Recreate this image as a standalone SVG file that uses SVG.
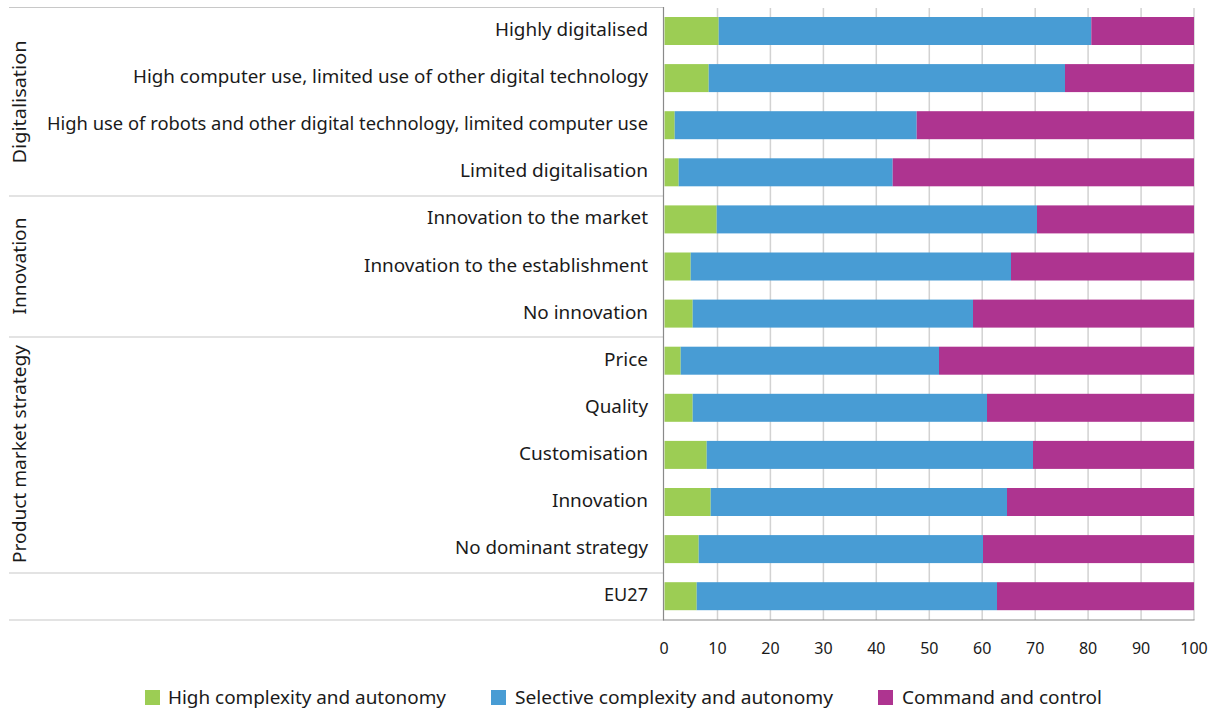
<svg xmlns="http://www.w3.org/2000/svg" width="1219" height="713" viewBox="0 0 1219 713">
<style>
.lbl{font-family:"Noto Sans","Liberation Sans",sans-serif;font-size:18px;fill:#1a1a1a;text-anchor:end}
.grp{font-family:"Noto Sans","Liberation Sans",sans-serif;font-size:18px;fill:#1a1a1a;text-anchor:middle}
.tick{font-family:"Noto Sans","Liberation Sans",sans-serif;font-size:16px;fill:#1a1a1a;text-anchor:middle}
.leg{font-family:"Noto Sans","Liberation Sans",sans-serif;font-size:18px;fill:#1a1a1a}
.g{fill:#9ccd54}.b{fill:#489cd4}.m{fill:#ae3490}
.grid{stroke:#d2d2d2;stroke-width:1.5}
.sep{stroke:#c8c8c8;stroke-width:1.2}
.axis{stroke:#8a8a8a;stroke-width:1.2}
</style>
<rect width="1219" height="713" fill="#fff"/>
<g id="grid">
<line class="grid" x1="717.5" y1="8" x2="717.5" y2="620"/>
<line class="grid" x1="770.4" y1="8" x2="770.4" y2="620"/>
<line class="grid" x1="823.4" y1="8" x2="823.4" y2="620"/>
<line class="grid" x1="876.3" y1="8" x2="876.3" y2="620"/>
<line class="grid" x1="929.3" y1="8" x2="929.3" y2="620"/>
<line class="grid" x1="982.2" y1="8" x2="982.2" y2="620"/>
<line class="grid" x1="1035.2" y1="8" x2="1035.2" y2="620"/>
<line class="grid" x1="1088.1" y1="8" x2="1088.1" y2="620"/>
<line class="grid" x1="1141.1" y1="8" x2="1141.1" y2="620"/>
<line class="grid" x1="1194" y1="8" x2="1194" y2="620"/>
</g>
<g id="separators">
<line class="sep" x1="9" y1="7.5" x2="663" y2="7.5"/>
<line class="sep" x1="9" y1="196" x2="663" y2="196"/>
<line class="sep" x1="9" y1="337" x2="663" y2="337"/>
<line class="sep" x1="9" y1="573" x2="663" y2="573"/>
<line class="sep" x1="9" y1="620" x2="663" y2="620"/>
</g>
<g id="bars">
<g id="r0"><rect class="g" x="664.5" y="17" width="54.2" height="28"/><rect class="b" x="718.7" y="17" width="372.6" height="28"/><rect class="m" x="1091.3" y="17" width="102.7" height="28"/></g>
<g id="r1"><rect class="g" x="664.5" y="64.1" width="44.2" height="28"/><rect class="b" x="708.7" y="64.1" width="356.3" height="28"/><rect class="m" x="1065" y="64.1" width="129" height="28"/></g>
<g id="r2"><rect class="g" x="664.5" y="111.2" width="10.2" height="28"/><rect class="b" x="674.7" y="111.2" width="242" height="28"/><rect class="m" x="916.7" y="111.2" width="277.3" height="28"/></g>
<g id="r3"><rect class="g" x="664.5" y="158.3" width="14.2" height="28"/><rect class="b" x="678.7" y="158.3" width="214" height="28"/><rect class="m" x="892.7" y="158.3" width="301.3" height="28"/></g>
<g id="r4"><rect class="g" x="664.5" y="205.4" width="52.2" height="28"/><rect class="b" x="716.7" y="205.4" width="320.3" height="28"/><rect class="m" x="1037" y="205.4" width="157" height="28"/></g>
<g id="r5"><rect class="g" x="664.5" y="252.5" width="26.2" height="28"/><rect class="b" x="690.7" y="252.5" width="320.3" height="28"/><rect class="m" x="1011" y="252.5" width="183" height="28"/></g>
<g id="r6"><rect class="g" x="664.5" y="299.6" width="28.2" height="28"/><rect class="b" x="692.7" y="299.6" width="280.3" height="28"/><rect class="m" x="973" y="299.6" width="221" height="28"/></g>
<g id="r7"><rect class="g" x="664.5" y="346.7" width="16.2" height="28"/><rect class="b" x="680.7" y="346.7" width="258.3" height="28"/><rect class="m" x="939" y="346.7" width="255" height="28"/></g>
<g id="r8"><rect class="g" x="664.5" y="393.8" width="28.2" height="28"/><rect class="b" x="692.7" y="393.8" width="294.3" height="28"/><rect class="m" x="987" y="393.8" width="207" height="28"/></g>
<g id="r9"><rect class="g" x="664.5" y="440.9" width="42.2" height="28"/><rect class="b" x="706.7" y="440.9" width="326.3" height="28"/><rect class="m" x="1033" y="440.9" width="161" height="28"/></g>
<g id="r10"><rect class="g" x="664.5" y="488" width="46.2" height="28"/><rect class="b" x="710.7" y="488" width="296.3" height="28"/><rect class="m" x="1007" y="488" width="187" height="28"/></g>
<g id="r11"><rect class="g" x="664.5" y="535.1" width="34.2" height="28"/><rect class="b" x="698.7" y="535.1" width="284.3" height="28"/><rect class="m" x="983" y="535.1" width="211" height="28"/></g>
<g id="r12"><rect class="g" x="664.5" y="582.2" width="32.2" height="28"/><rect class="b" x="696.7" y="582.2" width="300.3" height="28"/><rect class="m" x="997" y="582.2" width="197" height="28"/></g>
</g>
<g id="axes">
<line class="axis" x1="663.5" y1="7" x2="663.5" y2="620.5"/>
<line class="axis" x1="663" y1="620" x2="1194.5" y2="620"/>
</g>
<g id="row-labels">
<text class="lbl" x="648" y="36" textLength="153" lengthAdjust="spacingAndGlyphs">Highly digitalised</text>
<text class="lbl" x="648" y="83.1" textLength="515" lengthAdjust="spacingAndGlyphs">High computer use, limited use of other digital technology</text>
<text class="lbl" x="648" y="130.2" textLength="601" lengthAdjust="spacingAndGlyphs">High use of robots and other digital technology, limited computer use</text>
<text class="lbl" x="648" y="177.3" textLength="188" lengthAdjust="spacingAndGlyphs">Limited digitalisation</text>
<text class="lbl" x="648" y="224.4" textLength="221" lengthAdjust="spacingAndGlyphs">Innovation to the market</text>
<text class="lbl" x="648" y="271.5" textLength="284" lengthAdjust="spacingAndGlyphs">Innovation to the establishment</text>
<text class="lbl" x="648" y="318.6" textLength="125" lengthAdjust="spacingAndGlyphs">No innovation</text>
<text class="lbl" x="648" y="365.7" textLength="44" lengthAdjust="spacingAndGlyphs">Price</text>
<text class="lbl" x="648" y="412.8" textLength="63" lengthAdjust="spacingAndGlyphs">Quality</text>
<text class="lbl" x="648" y="459.9" textLength="129" lengthAdjust="spacingAndGlyphs">Customisation</text>
<text class="lbl" x="648" y="507" textLength="96" lengthAdjust="spacingAndGlyphs">Innovation</text>
<text class="lbl" x="648" y="554.1" textLength="193" lengthAdjust="spacingAndGlyphs">No dominant strategy</text>
<text class="lbl" x="648" y="601.2" textLength="44" lengthAdjust="spacingAndGlyphs">EU27</text>
</g>
<g id="group-labels">
<text class="grp" transform="translate(26,102) rotate(-90)" textLength="123" lengthAdjust="spacingAndGlyphs">Digitalisation</text>
<text class="grp" transform="translate(26,266) rotate(-90)" textLength="97" lengthAdjust="spacingAndGlyphs">Innovation</text>
<text class="grp" transform="translate(26,454) rotate(-90)" textLength="218" lengthAdjust="spacingAndGlyphs">Product market strategy</text>
</g>
<g id="ticks">
<text class="tick" x="664" y="654">0</text>
<text class="tick" x="717.5" y="654">10</text>
<text class="tick" x="770.4" y="654">20</text>
<text class="tick" x="823.4" y="654">30</text>
<text class="tick" x="876.3" y="654">40</text>
<text class="tick" x="929.3" y="654">50</text>
<text class="tick" x="982.2" y="654">60</text>
<text class="tick" x="1035.2" y="654">70</text>
<text class="tick" x="1088.1" y="654">80</text>
<text class="tick" x="1141.1" y="654">90</text>
<text class="tick" x="1194" y="654">100</text>
</g>
<g id="legend">
<rect class="g" x="145" y="690" width="15" height="15"/>
<text class="leg" x="168" y="704" textLength="278" lengthAdjust="spacingAndGlyphs">High complexity and autonomy</text>
<rect class="b" x="491" y="690" width="15" height="15"/>
<text class="leg" x="515" y="704" textLength="318" lengthAdjust="spacingAndGlyphs">Selective complexity and autonomy</text>
<rect class="m" x="878" y="690" width="15" height="15"/>
<text class="leg" x="902" y="704" textLength="200" lengthAdjust="spacingAndGlyphs">Command and control</text>
</g>
</svg>
